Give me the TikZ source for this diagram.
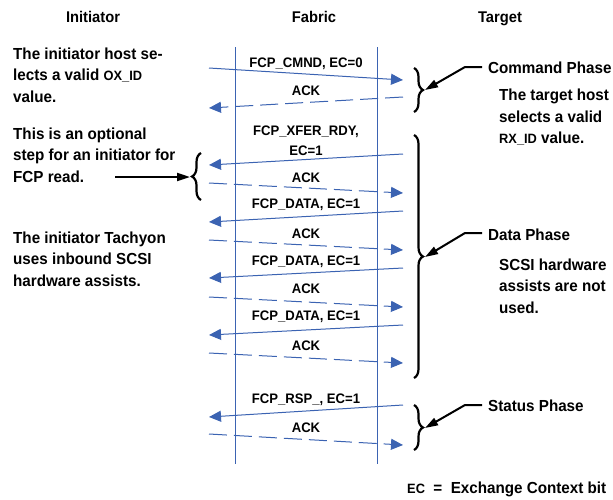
\documentclass[tikz,border=0pt]{standalone}
\usepackage{fontspec}
\setmainfont{Liberation Sans}[FakeStretch=0.95]
\usetikzlibrary{arrows.meta,decorations.pathreplacing}
\definecolor{seqblue}{RGB}{59,99,178}
\newcommand\idtxt[1]{{\fontsize{13.5}{16}\selectfont #1}}

\tikzset{
  msg/.style={draw=seqblue, line width=1pt, -{Triangle[length=12pt,width=11pt]}},
  ack/.style={msg, dash pattern=on 18pt off 7pt},
  lifeline/.style={draw=seqblue, line width=0.9pt},
  lbl/.style={font=\fontsize{13.8}{19.5}\selectfont\bfseries, inner sep=0pt, anchor=base, align=center},
  note/.style={font=\fontsize{16}{21.3}\selectfont\bfseries, inner sep=0pt, align=left, anchor=base west},
  head/.style={font=\fontsize{15.5}{18}\selectfont\bfseries, inner sep=0pt, anchor=base},
  phase/.style={font=\fontsize{16}{20}\selectfont\bfseries, inner sep=0pt, anchor=base west},
  brc/.style={draw, line width=2.2pt, decorate, decoration={brace, amplitude=9pt}},
  pointer/.style={draw, line width=2pt, -{Triangle[length=13pt,width=8pt]}},
}

\begin{document}
\begin{tikzpicture}[x=1pt, y=-1pt]
\useasboundingbox (0,0) rectangle (613,499);

% column headings
\node[head] (hinit) at (93,22) {Initiator};
\node[head] (hfab)  at (314,22) {Fabric};
\node[head] (htgt)  at (500,22) {Target};

% fabric boundaries
\coordinate (la) at (235,47);  \coordinate (lb) at (235,464);
\coordinate (ra) at (377,47);  \coordinate (rb) at (377,464);
\draw[lifeline] (la) -- (lb);
\draw[lifeline] (ra) -- (rb);

% frame end points (i = initiator side, t = target side)
\foreach \n/\yi/\yt in {m1/68/80, m2/108/97, m3/165/154, m4/183/193,
                        m5/222/211, m6/240/250, m7/278/268, m8/297/307,
                        m9/335/325, m10/353/363, m11/417/405, m12/434/445}{
  \coordinate (\n i) at (209,\yi);
  \coordinate (\n t) at (403,\yt);
}

% command phase
\node[lbl] (l1) at (306,67) {FCP\_CMND, EC=0};
\draw[msg] (m1i) -- (m1t);
\node[lbl] (l2) at (306,95) {ACK};
\draw[ack] (m2t) -- (m2i);

% data phase (multi-line nodes sit on their last baseline)
\node[lbl] (l3) at (306,155) {FCP\_XFER\_RDY,\\EC=1};
\draw[msg] (m3t) -- (m3i);
\node[lbl] (l4) at (306,182) {ACK};
\draw[ack] (m4i) -- (m4t);
\node[lbl] (l5) at (306,208) {FCP\_DATA, EC=1};
\draw[msg] (m5t) -- (m5i);
\node[lbl] (l6) at (306,238) {ACK};
\draw[ack] (m6i) -- (m6t);
\node[lbl] (l7) at (306,265) {FCP\_DATA, EC=1};
\draw[msg] (m7t) -- (m7i);
\node[lbl] (l8) at (306,293) {ACK};
\draw[ack] (m8i) -- (m8t);
\node[lbl] (l9) at (306,320) {FCP\_DATA, EC=1};
\draw[msg] (m9t) -- (m9i);
\node[lbl] (l10) at (306,350) {ACK};
\draw[ack] (m10i) -- (m10t);

% status phase
\node[lbl] (l11) at (306,403) {FCP\_RSP\_, EC=1};
\draw[msg] (m11t) -- (m11i);
\node[lbl] (l12) at (306,432) {ACK};
\draw[ack] (m12i) -- (m12t);

% initiator notes
\node[note] (n1) at (13,102) {The initiator host se-\\lects a valid \idtxt{OX\_ID}\\value.};
\node[note] (n2) at (13,182) {This is an optional\\step for an initiator for\\FCP read.};
\node[note] (n3) at (13,286) {The initiator Tachyon\\uses inbound SCSI\\hardware assists.};

% optional step brace and pointer
\coordinate (ob1) at (201,200); \coordinate (ob2) at (201,153);
\draw[brc] (ob1) -- (ob2);
\coordinate (op0) at (115,177); \coordinate (op1) at (190,177);
\draw[pointer] (op0) -- (op1);

% phase braces
\coordinate (cb1) at (414,68);  \coordinate (cb2) at (414,112);
\coordinate (db1) at (414,135); \coordinate (db2) at (414,378);
\coordinate (sb1) at (414,405); \coordinate (sb2) at (414,450);
\draw[brc] (cb1) -- (cb2);
\draw[brc] (db1) -- (db2);
\draw[brc] (sb1) -- (sb2);

% phase labels and their pointers
\node[phase] (pcmd) at (488,73) {Command Phase};
\node[phase] (pdat) at (488,240) {Data Phase};
\node[phase] (psta) at (488,411) {Status Phase};

\coordinate (ck) at (482,67);  \coordinate (cm) at (465,67);  \coordinate (ct) at (425,90);
\coordinate (dk) at (482,233); \coordinate (dm) at (465,233); \coordinate (dt) at (425,257);
\coordinate (sk) at (482,405); \coordinate (sm) at (465,405); \coordinate (st) at (425,428);
\draw[pointer] (ck) -- (cm) -- (ct);
\draw[pointer] (dk) -- (dm) -- (dt);
\draw[pointer] (sk) -- (sm) -- (st);

% target notes
\node[note] (t1) at (499,143.5) {The target host\\selects a valid\\\idtxt{RX\_ID} value.};
\node[note] (t2) at (499,313) {SCSI hardware\\assists are not\\used.};

% legend
\node[note] (leg) at (407,493) {\idtxt{EC}\ \ =\ \ Exchange Context bit};
\end{tikzpicture}
\end{document}
